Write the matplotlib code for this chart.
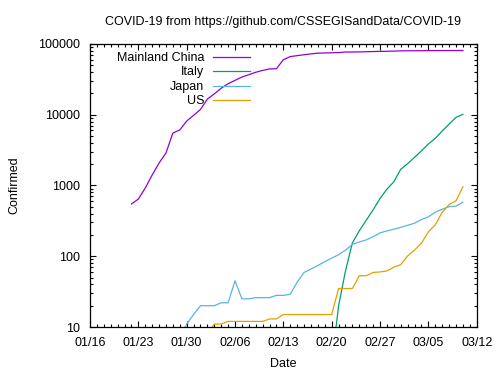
import numpy as np
import pandas as pd
import matplotlib
matplotlib.use("Agg")
import matplotlib.pyplot as plt
import matplotlib.dates as mdates
from matplotlib.ticker import LogLocator, NullFormatter, FixedFormatter

# daily confirmed cases, 01/22 .. 03/10
dates = pd.date_range("2020-01-22", "2020-03-10", freq="D")

china = [548, 643, 920, 1406, 2075, 2877, 5509, 6087, 8141, 9802,
         11891, 16630, 19716, 23707, 27440, 30587, 34110, 36814, 39829, 42354,
         44386, 44759, 59895, 66358, 68413, 70513, 72434, 74211, 74619, 75077,
         75550, 77001, 77022, 77241, 77754, 78166, 78600, 78928, 79356,
         79932, 80136, 80261, 80386, 80537, 80690, 80770, 80823, 80860, 80887]

italy = [0, 0, 0, 0, 0, 0, 0, 0, 0, 2,
         2, 2, 2, 2, 2, 2, 3, 3, 3, 3,
         3, 3, 3, 3, 3, 3, 3, 3, 3, 3,
         20, 62, 155, 229, 322, 453, 655, 888, 1128,
         1694, 2036, 2502, 3089, 3858, 4636, 5883, 7375, 9172, 10149]

japan = [2, 1, 2, 2, 4, 4, 7, 7, 11, 15,
         20, 20, 20, 22, 22, 45, 25, 25, 26, 26,
         26, 28, 28, 29, 43, 59, 66, 74, 84, 94,
         105, 122, 147, 159, 170, 189, 214, 228, 241,
         256, 274, 293, 331, 360, 420, 461, 502, 511, 581]

us = [1, 1, 2, 2, 5, 5, 5, 5, 5, 7,
      8, 8, 11, 11, 12, 12, 12, 12, 12, 12,
      13, 13, 15, 15, 15, 15, 15, 15, 15, 15,
      35, 35, 35, 53, 53, 59, 60, 62, 70,
      76, 101, 122, 153, 221, 278, 417, 537, 605, 959]

countries = ["Mainland China", "Italy", "Japan", "US"]
colors = ["#9400d3", "#009e73", "#56b4e9", "#e69f00"]

week_ticks = pd.date_range("2020-01-16", "2020-03-12", freq="7D")
y_ticks = [10, 100, 1000, 10000, 100000]
y_labels = ["10", "100", "1000", "10000", "100000"]


def show_plot():
    plt.rcParams["font.family"] = ["Liberation Sans", "DejaVu Sans"]
    plt.rcParams["font.size"] = 9

    fig = plt.figure(figsize=(5, 3.75), dpi=100)
    ax = fig.add_axes([0.18, 0.128, 0.7734, 0.7547])

    for name, values, color in zip(countries, [china, italy, japan, us], colors):
        v = np.array(values, dtype=float)
        v[v <= 0] = np.nan
        ax.plot(dates, v, color=color, lw=0.9, label=name)

    ax.set_yscale("log")
    ax.set_ylim(10, 100000)
    ax.set_yticks(y_ticks)
    ax.yaxis.set_major_formatter(FixedFormatter(y_labels))
    ax.yaxis.set_minor_locator(LogLocator(base=10, subs=np.arange(2, 10)))
    ax.yaxis.set_minor_formatter(NullFormatter())

    ax.set_xlim(week_ticks[0], week_ticks[-1])
    ax.set_xticks(week_ticks)
    ax.xaxis.set_major_formatter(mdates.DateFormatter("%m/%d"))
    ax.xaxis.set_minor_locator(mdates.DayLocator())

    ax.tick_params(which="both", direction="in", top=True, right=True,
                   width=0.8, color="black")
    ax.tick_params(which="major", length=4.2, pad=7)
    ax.tick_params(which="minor", length=2.2)
    for s in ax.spines.values():
        s.set_linewidth(0.9)

    ax.set_xlabel("Date", labelpad=7)
    ax.set_ylabel("Confirmed", labelpad=13)
    ax.set_title("COVID-19 from https://github.com/CSSEGISandData/COVID-19",
                 fontsize=9, pad=14)

    ax.legend(loc="upper right", bbox_to_anchor=(0.414, 0.972), frameon=False,
              markerfirst=False, handlelength=2.95, handletextpad=0.7,
              labelspacing=0.2, borderaxespad=0, borderpad=0)

    plt.savefig("out.png")


if __name__ == "__main__":
    show_plot()
